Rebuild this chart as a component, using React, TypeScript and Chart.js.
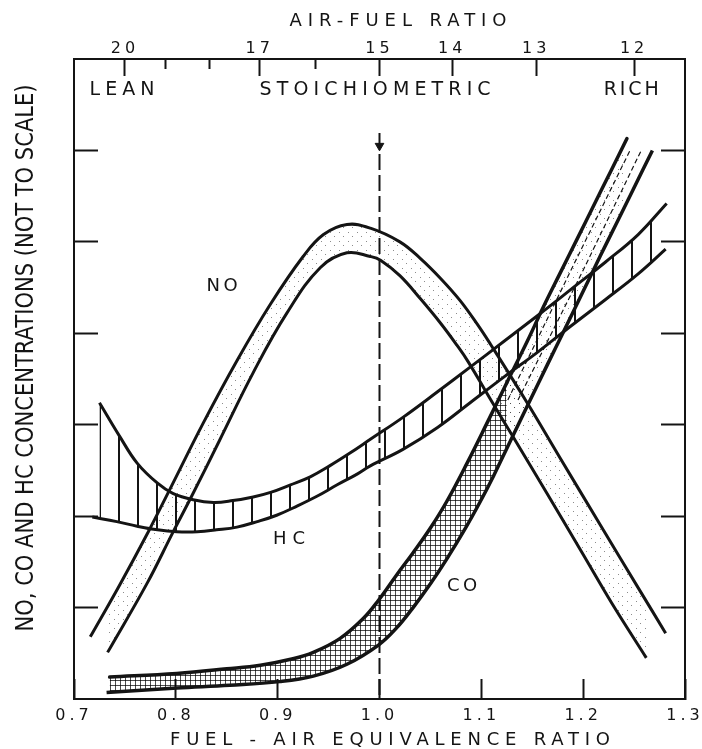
import React, { useEffect, useRef } from 'react';
import { Chart, registerables } from 'chart.js';

Chart.register(...registerables);

// ---------------- data ----------------
const STOICH_AFR = 15;

const phiTicks = [0.7, 0.8, 0.9, 1.0, 1.1, 1.2, 1.3];
const phiTickLabels = ['0.7', '0.8', '0.9', '1.0', '1.1', '1.2', '1.3'];
const afrTicks = [20, 19, 18, 17, 16, 15, 14, 13, 12];
const afrTickLabels = ['20', '', '', '17', '', '15', '14', '13', '12'];
const concTicks = [1, 2, 3, 4, 5, 6];

// NO band
const noUpperX = [0.716, 0.745, 0.773, 0.794, 0.827, 0.86, 0.893, 0.925, 0.945, 0.968, 0.991, 1.02, 1.04, 1.06, 1.079, 1.096, 1.109, 1.145, 1.175, 1.217, 1.256, 1.281];
const noUpperY = [0.68, 1.25, 1.83, 2.29, 3.02, 3.7, 4.32, 4.84, 5.08, 5.19, 5.15, 5.0, 4.82, 4.6, 4.36, 4.1, 3.88, 3.24, 2.68, 1.9, 1.18, 0.72];
const noLowerX = [0.733, 0.772, 0.797, 0.817, 0.843, 0.876, 0.909, 0.942, 0.968, 0.991, 1.001, 1.02, 1.04, 1.06, 1.076, 1.087, 1.111, 1.131, 1.166, 1.2, 1.228, 1.262];
const noLowerY = [0.51, 1.27, 1.82, 2.25, 2.83, 3.57, 4.22, 4.72, 4.88, 4.84, 4.8, 4.63, 4.38, 4.11, 3.87, 3.69, 3.24, 2.87, 2.22, 1.58, 1.05, 0.45];

// HC band
const hcUpperX = [0.725, 0.745, 0.762, 0.782, 0.797, 0.817, 0.837, 0.856, 0.876, 0.893, 0.912, 0.932, 0.951, 0.971, 0.991, 1.023, 1.057, 1.089, 1.122, 1.156, 1.188, 1.222, 1.254, 1.282];
const hcUpperY = [3.24, 2.87, 2.58, 2.36, 2.25, 2.18, 2.15, 2.17, 2.21, 2.26, 2.34, 2.43, 2.55, 2.69, 2.84, 3.08, 3.36, 3.63, 3.91, 4.2, 4.48, 4.78, 5.08, 5.42];
const hcLowerX = [0.718, 0.742, 0.762, 0.782, 0.801, 0.821, 0.84, 0.86, 0.88, 0.899, 0.919, 0.939, 0.958, 0.978, 0.991, 1.023, 1.057, 1.089, 1.122, 1.156, 1.188, 1.222, 1.254, 1.281];
const hcLowerY = [1.99, 1.94, 1.89, 1.85, 1.83, 1.83, 1.85, 1.88, 1.94, 2.01, 2.11, 2.22, 2.34, 2.46, 2.55, 2.73, 2.97, 3.24, 3.52, 3.8, 4.08, 4.37, 4.65, 4.92];

// CO band
const coUpperX = [0.735, 0.801, 0.85, 0.883, 0.915, 0.935, 0.961, 0.984, 0.999, 1.017, 1.033, 1.05, 1.066, 1.086, 1.107, 1.125, 1.145, 1.161, 1.177, 1.194, 1.21, 1.227, 1.243];
const coUpperY = [0.24, 0.28, 0.33, 0.37, 0.44, 0.51, 0.66, 0.88, 1.08, 1.36, 1.6, 1.87, 2.16, 2.58, 3.05, 3.46, 3.91, 4.29, 4.65, 5.03, 5.39, 5.77, 6.13];
const coLowerX = [0.732, 0.801, 0.853, 0.902, 0.935, 0.968, 0.999, 1.017, 1.033, 1.05, 1.066, 1.084, 1.099, 1.112, 1.125, 1.138, 1.148, 1.165, 1.18, 1.2, 1.217, 1.233, 1.249, 1.268];
const coLowerY = [0.07, 0.12, 0.15, 0.19, 0.25, 0.38, 0.59, 0.78, 1.0, 1.26, 1.53, 1.86, 2.16, 2.44, 2.74, 3.04, 3.27, 3.66, 4.0, 4.46, 4.85, 5.21, 5.57, 6.0];
const coDash1X = [1.126, 1.188, 1.246];
const coDash1Y = [3.27, 4.69, 6.0];
const coDash2X = [1.136, 1.2, 1.257];
const coDash2Y = [3.27, 4.69, 6.0];

// stoichiometric marker
const stoichX = [1.0, 1.0];
const stoichY = [6.19, 0];
const arrowX = [1.0];
const arrowY = [6.05];

// annotations
const annoText = ['NO', 'HC', 'CO', 'LEAN', 'STOICHIOMETRIC', 'RICH'];
const annoX = [0.8454, 0.9112, 1.0811, 0.7472, 0.9957, 1.2472];
const annoY = [4.51, 1.75, 1.23, 6.66, 6.66, 6.66];

const titleTop = 'AIR-FUEL RATIO';
const titleBottom = 'FUEL - AIR EQUIVALENCE RATIO';
const titleLeft = 'NO, CO AND HC CONCENTRATIONS (NOT TO SCALE)';

// ---------------- style ----------------
const INK = '#141414';
const FONT = '"DejaVu Sans", sans-serif';
const ANNO_WIDTH = [31, 32, 30, 65, 231, 55];
const ANNO_SIZE = [18, 18, 18, 19, 19, 19];
const CO_SPLIT = 1.125;
const TENSION = 0.4;

const pts = (xs: number[], ys: number[]) => xs.map((x, i) => ({ x, y: ys[i] }));

function makePattern(w: number, h: number, draw: (g: CanvasRenderingContext2D) => void) {
  const c = document.createElement('canvas');
  c.width = w;
  c.height = h;
  const g = c.getContext('2d') as CanvasRenderingContext2D;
  draw(g);
  return g.createPattern(c, 'repeat') as CanvasPattern;
}

function drawSpaced(ctx: any, text: string, cx: number, cy: number, width: number, size: number) {
  ctx.font = `${size}px ${FONT}`;
  ctx.letterSpacing = '0px';
  const w0 = ctx.measureText(text).width;
  const n = text.length;
  const sp = n > 1 ? (width - w0) / (n - 1) : 0;
  ctx.letterSpacing = `${sp}px`;
  ctx.textAlign = 'left';
  ctx.textBaseline = 'middle';
  ctx.fillText(text, cx - width / 2, cy);
}

const textPlugin = {
  id: 'textLayer',
  beforeDraw(chart: any) {
    chart.ctx.letterSpacing = '4px';
  },
  afterDraw(chart: any) {
    const { ctx, scales } = chart;
    const xs = scales.x;
    const ys = scales.y;
    ctx.save();
    ctx.fillStyle = INK;
    annoText.forEach((t, i) => {
      drawSpaced(ctx, t, xs.getPixelForValue(annoX[i]), ys.getPixelForValue(annoY[i]), ANNO_WIDTH[i], ANNO_SIZE[i]);
    });
    drawSpaced(ctx, titleTop, 398, 21, 217, 18);
    drawSpaced(ctx, titleBottom, 390, 740, 440, 18);
    ctx.save();
    ctx.translate(27, 358);
    ctx.rotate(-Math.PI / 2);
    ctx.font = `24px ${FONT}`;
    ctx.letterSpacing = '0px';
    const w0 = ctx.measureText(titleLeft).width;
    ctx.scale(547 / w0, 1);
    ctx.textAlign = 'center';
    ctx.textBaseline = 'middle';
    ctx.fillText(titleLeft, 0, 0);
    ctx.restore();
    ctx.restore();
  },
};

export default function App() {
  const ref = useRef<HTMLCanvasElement>(null);

  useEffect(() => {
    const canvas = ref.current;
    if (!canvas) return;

    const stipple = makePattern(9, 9, (g) => {
      g.fillStyle = 'rgba(0,0,0,0.45)';
      g.fillRect(1, 2, 1, 1);
      g.fillRect(6, 7, 1, 1);
    });
    const stripes = makePattern(19, 4, (g) => {
      g.fillStyle = INK;
      g.fillRect(4, 0, 2, 4);
    });
    const crosshatch = makePattern(5, 5, (g) => {
      g.fillStyle = 'rgba(0,0,0,0.7)';
      g.fillRect(0, 0, 5, 1);
      g.fillRect(0, 0, 1, 5);
    });

    const base = {
      borderColor: INK,
      borderWidth: 3,
      pointRadius: 0,
      pointHoverRadius: 0,
      cubicInterpolationMode: 'default',
      tension: TENSION,
      fill: false,
      borderCapStyle: 'butt',
      borderJoinStyle: 'round',
    };
    const straight = { cubicInterpolationMode: 'default', tension: 0 };

    const gridCommon = {
      drawOnChartArea: false,
      drawTicks: true,
      tickWidth: 2,
      tickColor: INK,
    };
    const borderCommon = { display: true, color: INK, width: 2 };
    const tickFont = { family: FONT, size: 16 };

    const chart = new Chart(canvas, {
      type: 'line',
      data: {
        datasets: [
          { ...base, label: 'NO lower', data: pts(noLowerX, noLowerY) },
          { ...base, label: 'NO upper', data: pts(noUpperX, noUpperY), fill: '-1', backgroundColor: stipple },
          { ...base, label: 'HC lower', data: pts(hcLowerX, hcLowerY) },
          { ...base, label: 'HC upper', data: pts(hcUpperX, hcUpperY), fill: '-1', backgroundColor: stripes },
          { ...base, label: 'CO lower', data: pts(coLowerX, coLowerY), borderWidth: 3.5 },
          {
            ...base,
            label: 'CO upper',
            data: pts(coUpperX, coUpperY),
            borderWidth: 3.5,
            borderCapStyle: 'round',
            fill: '-1',
            backgroundColor: crosshatch,
            segment: {
              backgroundColor: (c: any) => (c.p0.parsed.x >= CO_SPLIT ? stipple : crosshatch),
              borderDashOffset: (c: any) => (c.p0.parsed.x >= CO_SPLIT ? 0.001 : 0),
            },
          },
          { ...base, ...straight, label: 'CO dash 1', data: pts(coDash1X, coDash1Y), borderWidth: 1.2, borderDash: [5, 3] },
          { ...base, ...straight, label: 'CO dash 2', data: pts(coDash2X, coDash2Y), borderWidth: 1.2, borderDash: [5, 3] },
          { ...base, ...straight, label: 'Stoichiometric', data: pts(stoichX, stoichY), borderWidth: 2, borderDash: [16, 5] },
          {
            ...base,
            label: 'Arrow',
            data: pts(arrowX, arrowY),
            showLine: false,
            pointRadius: 5,
            pointStyle: 'triangle',
            pointRotation: 180,
            pointBackgroundColor: INK,
            pointBorderColor: INK,
            pointBorderWidth: 1,
          },
        ],
      },
      options: {
        responsive: false,
        animation: false,
        events: [],
        layout: { padding: 0 },
        plugins: {
          legend: { display: false },
          tooltip: { enabled: false },
          title: { display: false },
        },
        scales: {
          x: {
            type: 'linear',
            position: 'bottom',
            min: 0.7,
            max: 1.3,
            afterBuildTicks: (s: any) => {
              s.ticks = phiTicks.map((v) => ({ value: v }));
            },
            afterFit: (s: any) => {
              s.height = 50;
              s.paddingLeft = 0;
              s.paddingRight = 0;
            },
            ticks: {
              callback: (_v: any, i: number) => phiTickLabels[i],
              autoSkip: false,
              maxRotation: 0,
              padding: 27,
              color: INK,
              font: tickFont,
            },
            grid: { ...gridCommon, tickLength: -20 },
            border: borderCommon,
          },
          x2: {
            type: 'linear',
            position: 'top',
            min: 0.7,
            max: 1.3,
            afterBuildTicks: (s: any) => {
              s.ticks = afrTicks.map((a) => ({ value: STOICH_AFR / a }));
            },
            afterFit: (s: any) => {
              s.height = 59;
              s.paddingLeft = 0;
              s.paddingRight = 0;
            },
            ticks: {
              callback: (_v: any, i: number) => afrTickLabels[i],
              autoSkip: false,
              maxRotation: 0,
              padding: 18,
              color: INK,
              font: tickFont,
            },
            grid: {
              ...gridCommon,
              tickLength: -17,
              tickBorderDash: (c: any) => (afrTickLabels[c.index] ? [] : [0, 7, 10, 60]),
            },
            border: borderCommon,
          },
          y: {
            type: 'linear',
            position: 'left',
            min: 0,
            max: 7,
            afterBuildTicks: (s: any) => {
              s.ticks = concTicks.map((v) => ({ value: v }));
            },
            afterFit: (s: any) => {
              s.width = 74;
              s.paddingTop = 0;
              s.paddingBottom = 0;
            },
            ticks: { display: false },
            grid: { ...gridCommon, tickLength: -24 },
            border: borderCommon,
          },
          y2: {
            type: 'linear',
            position: 'right',
            min: 0,
            max: 7,
            afterBuildTicks: (s: any) => {
              s.ticks = concTicks.map((v) => ({ value: v }));
            },
            afterFit: (s: any) => {
              s.width = 17;
              s.paddingTop = 0;
              s.paddingBottom = 0;
            },
            ticks: { display: false },
            grid: { ...gridCommon, tickLength: -24 },
            border: borderCommon,
          },
        },
      },
      plugins: [textPlugin],
    } as any);

    return () => chart.destroy();
  }, []);

  return (
    <div style={{ position: 'absolute', left: 0, top: 0, width: 702, height: 749, background: '#fff' }}>
      <canvas ref={ref} width={702} height={749} style={{ display: 'block' }} />
    </div>
  );
}
